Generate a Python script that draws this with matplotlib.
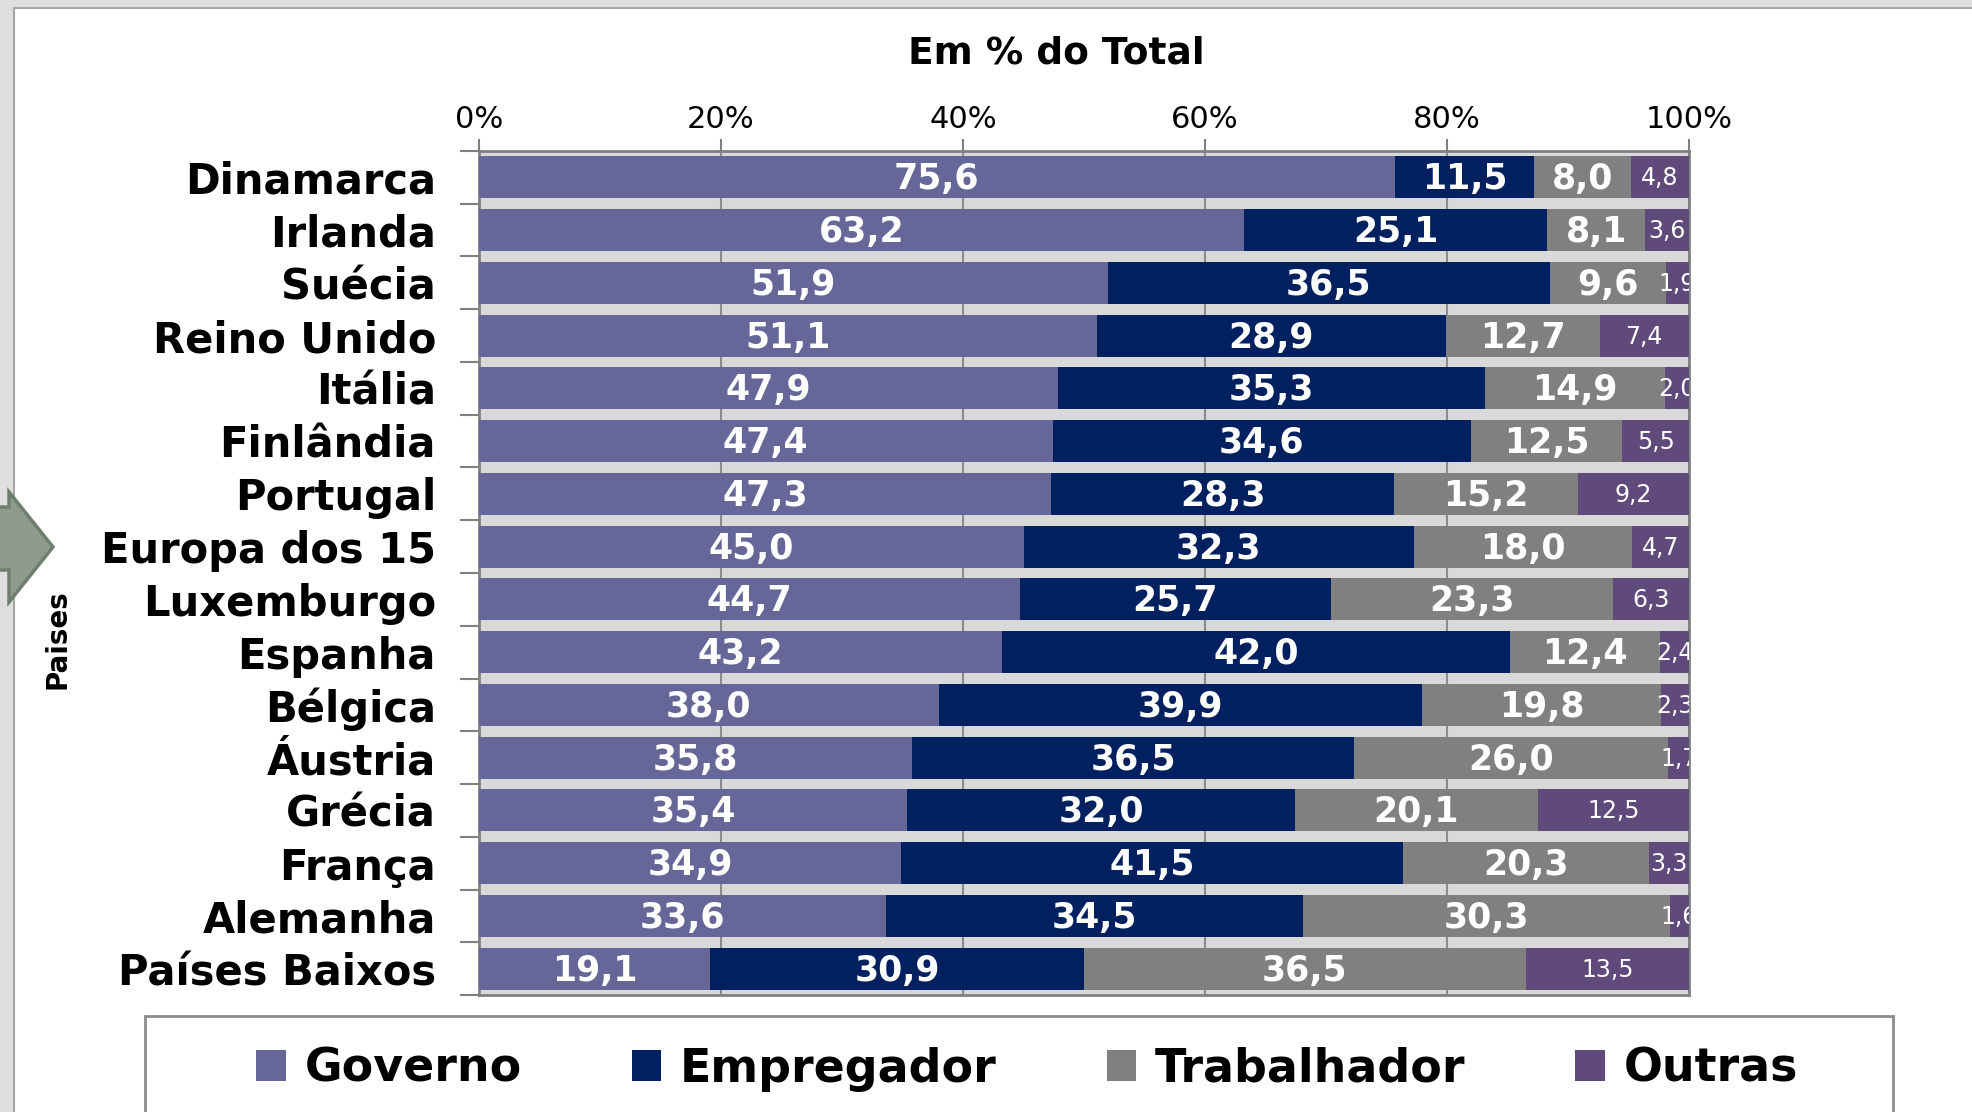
import matplotlib.pyplot as plt
from matplotlib.patches import Rectangle, Polygon, Patch
import numpy as np

plt.rcParams['font.family'] = ['DejaVu Sans']

paises = ["Dinamarca", "Irlanda", "Suécia", "Reino Unido", "Itália", "Finlândia",
          "Portugal", "Europa dos 15", "Luxemburgo", "Espanha", "Bélgica", "Áustria",
          "Grécia", "França", "Alemanha", "Países Baixos"]
governo = [75.6, 63.2, 51.9, 51.1, 47.9, 47.4, 47.3, 45.0, 44.7, 43.2, 38.0, 35.8, 35.4, 34.9, 33.6, 19.1]
empregador = [11.5, 25.1, 36.5, 28.9, 35.3, 34.6, 28.3, 32.3, 25.7, 42.0, 39.9, 36.5, 32.0, 41.5, 34.5, 30.9]
trabalhador = [8.0, 8.1, 9.6, 12.7, 14.9, 12.5, 15.2, 18.0, 23.3, 12.4, 19.8, 26.0, 20.1, 20.3, 30.3, 36.5]
outras = [4.8, 3.6, 1.9, 7.4, 2.0, 5.5, 9.2, 4.7, 6.3, 2.4, 2.3, 1.7, 12.5, 3.3, 1.6, 13.5]

series = [("Governo", governo, "#666699"),
          ("Empregador", empregador, "#00205f"),
          ("Trabalhador", trabalhador, "#808080"),
          ("Outras", outras, "#604a7b")]

W, H = 1972, 1112
fig = plt.figure(figsize=(W / 100, H / 100), dpi=100, facecolor="#dedede")

# white panel
fig.patches.append(Rectangle((14 / W, -0.1), 1.2, 1 - 8 / H + 0.1, transform=fig.transFigure,
                             facecolor="white", edgecolor="#a6a6a6", linewidth=1.5, zorder=0))
# arrow at left edge
pts = [(-5, 507), (9, 507), (9, 492), (53, 547), (9, 602), (9, 570), (-5, 570)]
fig.patches.append(Polygon([(x / W, 1 - y / H) for x, y in pts], closed=True, transform=fig.transFigure,
                           facecolor="#8d9c8d", edgecolor="#6e7e6e", linewidth=2.5, zorder=1))
# legend frame
fig.patches.append(Rectangle((145 / W, -0.1), (1893 - 145) / W, (1112 - 1016) / H + 0.1,
                             transform=fig.transFigure, facecolor="white", edgecolor="#8c8c8c",
                             linewidth=2, zorder=1))

ax = fig.add_axes([479 / W, 1 - 995 / H, (1689 - 479) / W, (995 - 151) / H])
ax.set_zorder(3)
ax.set_facecolor("#d9d9d9")

data = np.array([governo, empregador, trabalhador, outras])
pct = data / data.sum(axis=0) * 100
y = np.arange(len(paises))
left = np.zeros(len(paises))
for i, (nome, vals, cor) in enumerate(series):
    ax.barh(y, pct[i], left=left, height=0.8, color=cor, zorder=3)
    for j, v in enumerate(vals):
        cx = left[j] + pct[i][j] / 2
        txt = f"{v:.1f}".replace(".", ",")
        if nome == "Outras":
            ax.text(cx, y[j] + 0.02, txt, ha="center", va="center", color="white", fontsize=17,
                    clip_on=True, zorder=4)
        else:
            ax.text(cx, y[j] + 0.04, txt, ha="center", va="center", color="white", fontsize=25,
                    fontweight="bold", zorder=4)
    left += pct[i]

ax.set_xlim(0, 100)
ax.set_ylim(len(paises) - 0.5, -0.5)
ax.xaxis.tick_top()
ax.set_xticks(np.arange(0, 101, 20))
ax.set_xticklabels([f"{t}%" for t in range(0, 101, 20)], fontsize=22)
ax.tick_params(axis="x", length=9, color="#808080", width=1.5, pad=3)
ax.set_yticks(y)
ax.set_yticklabels(paises, fontsize=30, fontweight="bold")
ax.tick_params(axis="y", which="major", length=0, pad=31)
ax.set_yticks(np.arange(-0.5, len(paises)), minor=True)
ax.tick_params(axis="y", which="minor", length=14, color="#808080", width=1.5)
ax.grid(axis="x", color="#8c8c8c", linewidth=1.5, zorder=1)
ax.set_axisbelow(True)
for s in ax.spines.values():
    s.set_color("#808080")
    s.set_linewidth(2)

fig.text(1056 / W, 1 - 53 / H, "Em % do Total", ha="center", va="center", fontsize=27, fontweight="bold")
fig.text(57 / W, 1 - 639 / H, "Paises", ha="center", va="center", rotation=90, fontsize=20,
         fontweight="bold")

handles = [Patch(facecolor=c, label=n) for n, _, c in series]
leg = fig.legend(handles=handles, loc="center", bbox_to_anchor=(1027 / W, 1 - 1069 / H), ncol=4,
                 frameon=False, prop={"weight": "bold", "size": 33},
                 handlelength=0.65, handleheight=0.65, handletextpad=0.4, columnspacing=2.4)
leg.set_zorder(6)

fig.savefig("out.png", dpi=100, facecolor=fig.get_facecolor())
